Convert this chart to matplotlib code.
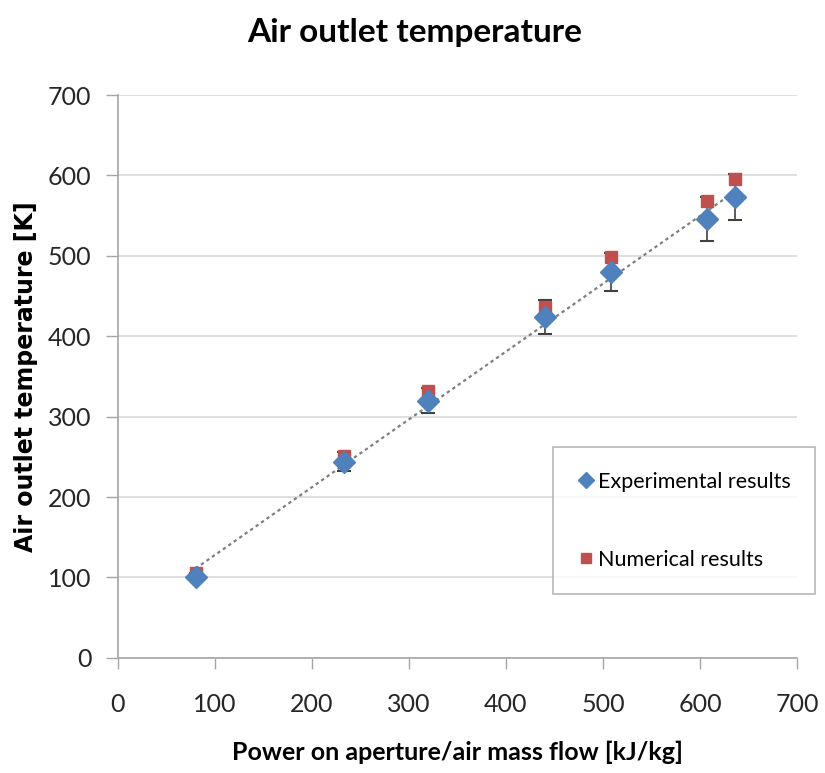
import matplotlib
matplotlib.use("Agg")
import matplotlib.pyplot as plt
import numpy as np

# Data
power = [80, 233, 320, 440, 508, 607, 636]
exp_temp = [100, 244, 320, 424, 480, 546, 573]
exp_err = [5, 12, 16, 21, 24, 27, 29]
num_temp = [105, 251, 332, 437, 499, 568, 596]

x_ticks = [0, 100, 200, 300, 400, 500, 600, 700]
y_ticks = [0, 100, 200, 300, 400, 500, 600, 700]

font = "Lato"

fig = plt.figure(figsize=(8.25, 7.73), dpi=100)
ax = fig.add_axes([0.143, 0.149, 0.823, 0.728])

# Linear trendline through the experimental points
coef = np.polyfit(power, exp_temp, 1)
xt = np.array([min(power), max(power)])
ax.plot(xt, np.polyval(coef, xt), color="#7f7f7f", ls=(0, (1.5, 1.5)), lw=1.6, zorder=2)

ax.errorbar(power, exp_temp, yerr=exp_err, fmt="none", ecolor="#404040",
            elinewidth=1.2, capsize=5, capthick=1.5, zorder=3)
ax.plot(power, num_temp, ls="none", marker="s", ms=9, color="#c0504d",
        markeredgecolor="#c0504d", label="Numerical results", zorder=4)
ax.plot(power, exp_temp, ls="none", marker="D", ms=11, color="#4f81bd",
        markeredgecolor="#4f81bd", label="Experimental results", zorder=5)

ax.set_xlim(0, 700)
ax.set_ylim(0, 700)
ax.set_xticks(x_ticks)
ax.set_yticks(y_ticks)
ax.set_xticklabels([str(v) for v in x_ticks], fontsize=18, family=font, color="#262626")
ax.set_yticklabels([str(v) for v in y_ticks], fontsize=18, family=font, color="#262626")
ax.tick_params(axis="x", length=8, width=1, color="#a6a6a6", pad=17, direction="out")
ax.tick_params(axis="y", length=9, width=1, color="#a6a6a6", pad=10, direction="out")

ax.grid(axis="y", color="#d9d9d9", lw=1.2)
ax.set_axisbelow(True)
for s in ["top", "right"]:
    ax.spines[s].set_visible(False)
for s in ["left", "bottom"]:
    ax.spines[s].set_color("#a6a6a6")
    ax.spines[s].set_linewidth(1.2)

fig.text(0.502, 0.958, "Air outlet temperature", fontsize=24, fontweight="bold",
         family=font, ha="center", va="center")
ax.set_xlabel("Power on aperture/air mass flow [kJ/kg]", fontsize=18, fontweight="bold",
              family=font, labelpad=18)
ax.set_ylabel("Air outlet temperature [K]", fontsize=17, fontweight="bold",
              family="DejaVu Sans", labelpad=7)

handles, labels = ax.get_legend_handles_labels()
leg = ax.legend(handles[::-1], labels[::-1], loc="upper left",
                bbox_to_anchor=(0.64, 0.375), frameon=True, fancybox=False,
                prop={"family": font, "size": 15.5}, labelspacing=2.7,
                handletextpad=0.15, handlelength=0.8, borderpad=1.15, markerscale=0.75,
                borderaxespad=0)
leg.get_frame().set_edgecolor("#a6a6a6")
leg.get_frame().set_linewidth(1.2)

fig.savefig("out.png", dpi=100)
